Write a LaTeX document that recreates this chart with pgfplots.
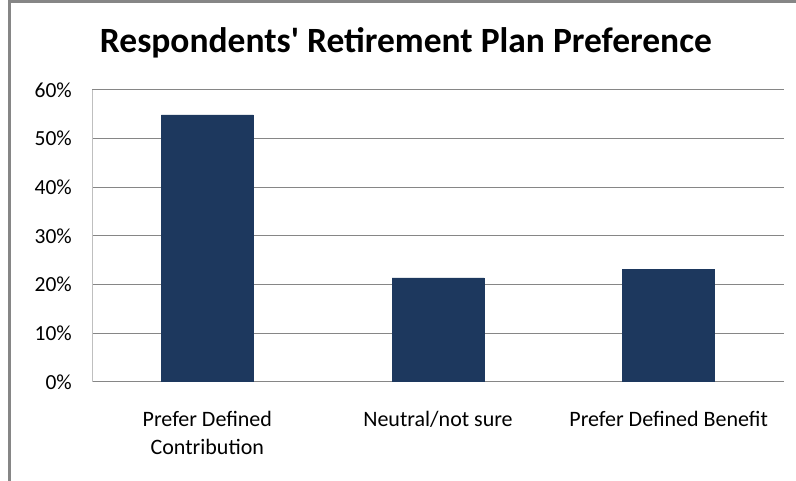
\documentclass[border=0pt]{standalone}
\usepackage{pgfplots}
\pgfplotsset{compat=1.18}
\usepackage{fontspec}
\setmainfont{Carlito}
\definecolor{barblue}{RGB}{29,56,94}
\definecolor{gridgray}{RGB}{134,134,134}
\definecolor{axgray}{RGB}{191,191,191}
\definecolor{framegray}{RGB}{134,134,134}
\begin{document}
\begin{tikzpicture}
\useasboundingbox (0pt,0pt) rectangle (796pt,481pt);
\fill[white] (0pt,0pt) rectangle (796pt,481pt);
\draw[framegray, line width=3pt] (9pt,-2pt) -- (9pt,479pt) -- (800pt,479pt);
\node[anchor=base, font=\fontsize{35.5}{42}\selectfont\bfseries] at (406pt,428pt) {Respondents\textquotesingle\ Retirement Plan Preference};
\begin{axis}[
  at={(92pt,99pt)}, anchor=south west,
  scale only axis, width=692pt, height=292pt,
  xmin=-0.5, xmax=2.5, ymin=0, ymax=60,
  ybar, bar width=92pt,
  axis y line=left, axis x line=bottom,
  axis line style={-},
  y axis line style={draw=axgray, line width=1pt},
  x axis line style={draw=gridgray, line width=1pt},
  ymajorgrids, grid style={draw=gridgray, line width=1pt},
  major tick length=0pt,
  ytick={0,10,20,30,40,50,60},
  yticklabels={0\%,10\%,20\%,30\%,40\%,50\%,60\%},
  xtick={0,1,2},
  xticklabels={{Prefer Defined\\Contribution},{Neutral/not sure},{Prefer Defined Benefit}},
  yticklabel style={font=\fontsize{21.5}{24}\selectfont, inner sep=0pt, xshift=-20pt},
  xticklabel style={font=\fontsize{22}{28}\selectfont, align=center, anchor=north, inner sep=0pt, yshift=-29pt},
  /pgf/number format/assume math mode=true,
]
\addplot[fill=barblue, draw=barblue] coordinates {(0,54.9) (1,21.4) (2,23.2)};
\end{axis}
\end{tikzpicture}
\end{document}
